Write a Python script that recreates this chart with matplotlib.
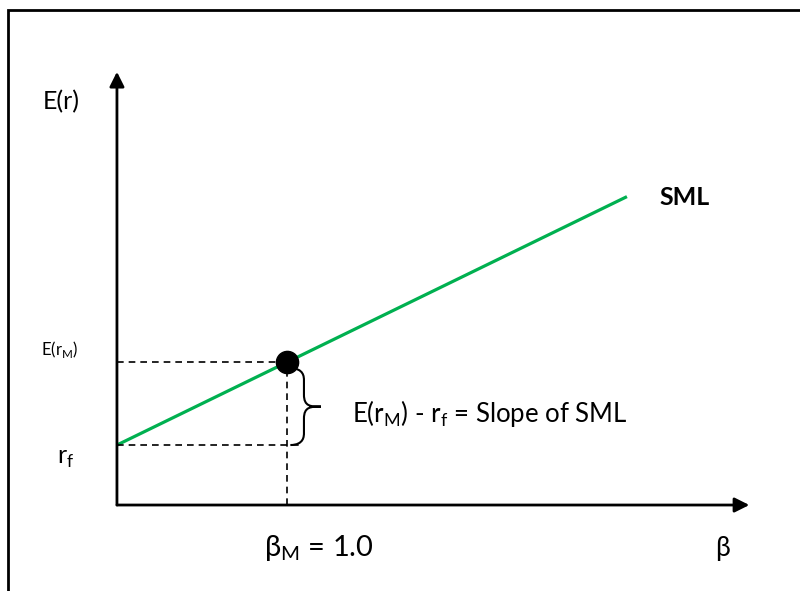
import matplotlib.pyplot as plt
import matplotlib.patches as patches
from matplotlib.path import Path

plt.rcParams['font.family'] = ['Lato', 'DejaVu Sans']

# SML data
rf = 1.0
ErM = 2.38
betaM = 1.0
beta_line = [0.0, 3.0]
sml = [rf + (ErM - rf) * b for b in beta_line]

fig = plt.figure(figsize=(8, 5.91), dpi=100)
ax = fig.add_axes([0, 0, 1, 1])
ax.set_xlim(-0.688, 4.018)
ax.set_ylim(-1.433, 8.417)
ax.set_axis_off()

# border box
fig.patches.append(patches.Rectangle((8 / 800, -0.05), 1.1, 1 - 10 / 591 + 0.05,
                                     transform=fig.transFigure, fill=False,
                                     lw=2, ec='black'))

# axes with arrows
ax.annotate('', xy=(3.72, 0), xytext=(0, 0),
            arrowprops=dict(arrowstyle='-|>', lw=2, color='black', mutation_scale=22,
                            shrinkA=0, shrinkB=0))
ax.annotate('', xy=(0, 7.22), xytext=(0, 0),
            arrowprops=dict(arrowstyle='-|>', lw=2, color='black', mutation_scale=22,
                            shrinkA=0, shrinkB=0))

# SML
ax.plot(beta_line, sml, color='#00B050', lw=2.3, solid_capstyle='butt')

# dashed guides
ax.plot([0, betaM], [ErM, ErM], color='black', ls=(0, (4, 3)), lw=1.2)
ax.plot([0, betaM + 0.08], [rf, rf], color='black', ls=(0, (4, 3)), lw=1.2)
ax.plot([betaM, betaM], [0, ErM], color='black', ls=(0, (4, 3)), lw=1.2)

# market portfolio point
ax.plot([betaM], [ErM], 'o', color='black', ms=16, zorder=5)

# curly brace
x0 = betaM + 0.02
w = 0.08
top = ErM - 0.1
bot = rf
mid = (top + bot) / 2
verts = [(x0, top), (x0 + w, top), (x0 + w, top - 0.15), (x0 + w, top - 0.2),
         (x0 + w, mid + 0.2),
         (x0 + w, mid), (x0 + w + 0.04, mid), (x0 + w + 0.1, mid),
         (x0 + w + 0.04, mid), (x0 + w, mid), (x0 + w, mid - 0.2),
         (x0 + w, bot + 0.2),
         (x0 + w, bot + 0.15), (x0 + w, bot), (x0, bot)]
codes = [Path.MOVETO, Path.CURVE4, Path.CURVE4, Path.CURVE4,
         Path.LINETO,
         Path.CURVE4, Path.CURVE4, Path.CURVE4,
         Path.CURVE4, Path.CURVE4, Path.CURVE4,
         Path.LINETO,
         Path.CURVE4, Path.CURVE4, Path.CURVE4]
ax.add_patch(patches.PathPatch(Path(verts, codes), fill=False, lw=1.5, ec='black'))

# labels
ax.text(-0.33, 6.72, 'E(r)', fontsize=18, ha='center', va='center')
ax.text(-0.34, 2.6, r'E(r$_\mathregular{M}$)', fontsize=12, ha='center', va='center')
ax.text(-0.3, 0.78, r'r$_\mathregular{f}$', fontsize=18, ha='center', va='center')
ax.text(1.38, 1.53, r'E(r$_\mathregular{M}$) - r$_\mathregular{f}$ = Slope of SML',
        fontsize=18.5, ha='left', va='center')
ax.text(betaM + 0.19, -0.72, r'β$_\mathregular{M}$ = 1.0', fontsize=21, ha='center', va='center')
ax.text(3.56, -0.72, 'β', fontsize=19, ha='center', va='center')
ax.text(3.34, 5.13, 'SML', fontsize=18, fontweight='bold', ha='center', va='center')

fig.savefig('out.png', dpi=100)
